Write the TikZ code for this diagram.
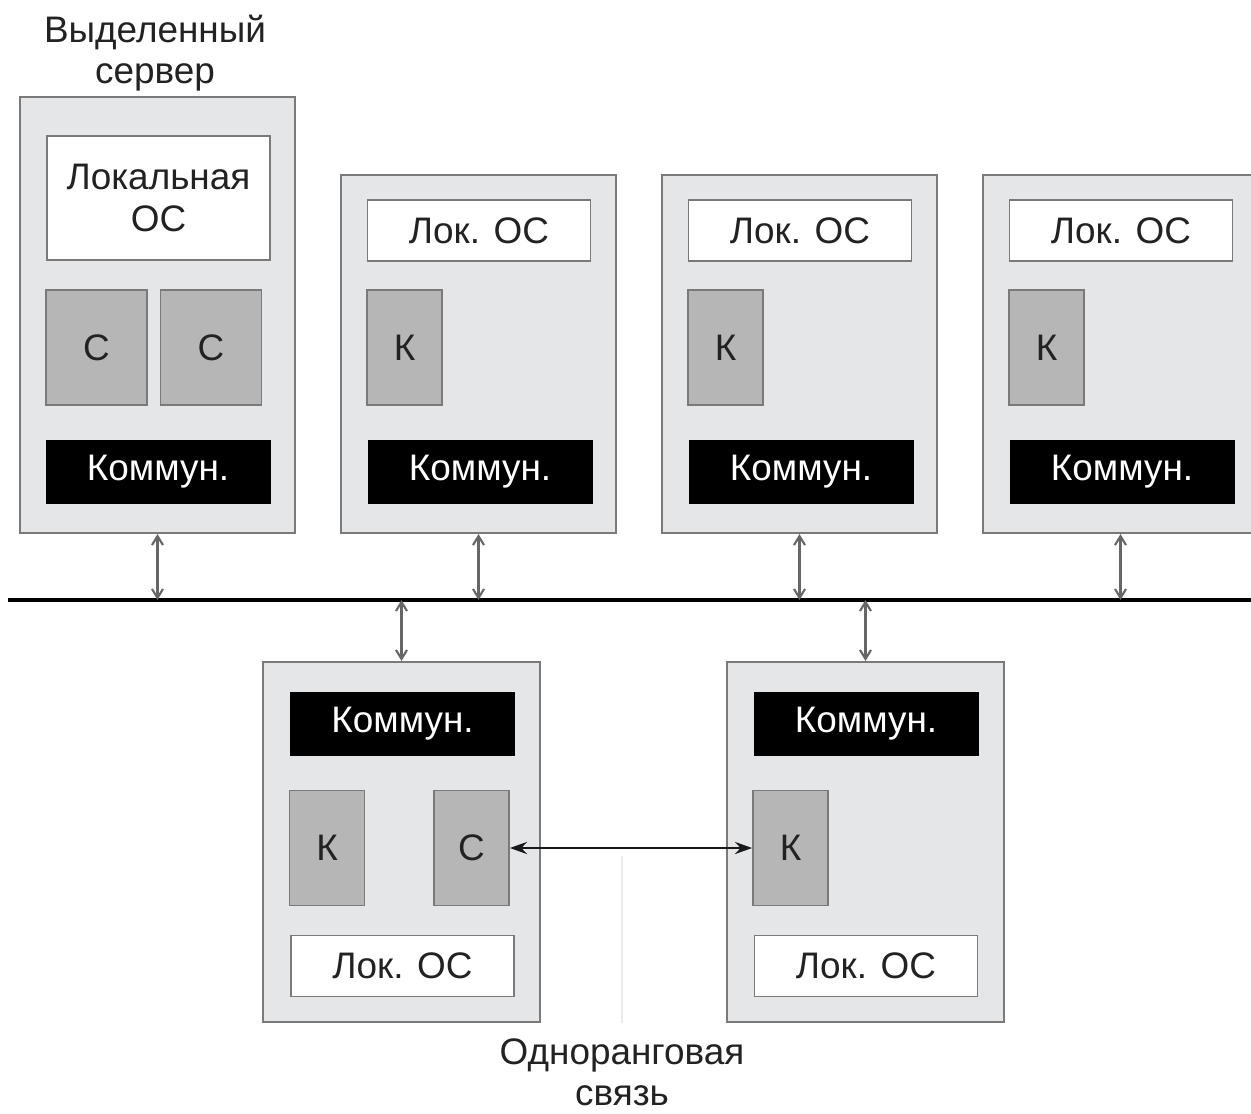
\documentclass[tikz,border=0pt]{standalone}
\usepackage{fontspec}
\setmainfont{Liberation Sans}
\usepackage{tikz}
\usetikzlibrary{positioning}
\usetikzlibrary{arrows.meta}
\usepackage{xcolor}
\definecolor{boxfill}{HTML}{E5E6E7}
\definecolor{boxline}{HTML}{7A7A7A}
\definecolor{progfill}{HTML}{B6B6B6}
\definecolor{inktext}{HTML}{222222}

\begin{document}
\begin{tikzpicture}[
		% Style definitions
		machine/.style={draw=boxline, line width=1.2pt, fill=boxfill, minimum width=5.5cm, minimum height=7.16cm},
		oslayer/.style={draw=boxline, line width=1pt, fill=white, minimum width=4.46cm, minimum height=1.22cm, align=center, text=inktext},
		netlayer/.style={draw=black, fill=black, minimum width=4.48cm, minimum height=1.26cm, text=white},
		prog/.style={draw=boxline, line width=1pt, fill=progfill, minimum width=1.5cm, minimum height=2.3cm, text=inktext},
		caption/.style={align=center, text=inktext},
		link/.style={{Straight Barb[length=1.8mm,width=2.2mm]}-{Straight Barb[length=1.8mm,width=2.2mm]}, draw=black!60, line width=1.2pt},
		peer/.style={{Stealth[length=3.4mm,width=2.4mm]}-{Stealth[length=3.4mm,width=2.4mm]}, draw=black!90, line width=1.6pt},
		font=\fontsize{21}{23.5}\selectfont,
		]
		\useasboundingbox (0,0) rectangle (25.02,-22.28);

		% Dedicated server
		\node[caption] (srvlbl) at (3.1,-1.06) {Выделенный\\сервер};
		\node[machine, minimum height=8.72cm] (srv) at (3.15,-6.3) {};
		\node[oslayer, minimum height=2.48cm] (srvos) at (3.17,-3.96) {Локальная\\ОС};
		\node[prog, minimum width=2.02cm] (srvc1) at (1.93,-6.95) {С};
		\node[prog, minimum width=2.02cm] (srvc2) at (4.22,-6.95) {С};
		\node[netlayer] (srvnet) at (3.16,-9.43) {Коммун.};

		% Clients, top row
		\node[machine] (cla) at (9.57,-7.08) {};
		\node[oslayer] (claos) at (9.58,-4.61) {Лок. ОС};
		\node[prog] (clak) at (8.09,-6.95) {К};
		\node[netlayer] (clanet) at (9.6,-9.43) {Коммун.};

		\node[machine] (clb) at (15.99,-7.08) {};
		\node[oslayer] (clbos) at (16.0,-4.61) {Лок. ОС};
		\node[prog] (clbk) at (14.51,-6.95) {К};
		\node[netlayer] (clbnet) at (16.02,-9.43) {Коммун.};

		\node[machine] (clc) at (22.41,-7.08) {};
		\node[oslayer] (clcos) at (22.42,-4.61) {Лок. ОС};
		\node[prog] (clck) at (20.93,-6.95) {К};
		\node[netlayer] (clcnet) at (22.44,-9.43) {Коммун.};

		% Network bus
		\coordinate (busw) at (0.16,-12.0);
		\coordinate (buse) at (25.02,-12.0);
		\draw[line width=2.8pt] (busw) -- (buse);

		% Peer machines, bottom row
		\node[machine, minimum width=5.54cm, minimum height=7.2cm] (pra) at (8.03,-16.84) {};
		\node[netlayer] (pranet) at (8.05,-14.48) {Коммун.};
		\node[prog] (prak) at (6.54,-16.96) {К};
		\node[prog] (prac) at (9.43,-16.96) {С};
		\node[oslayer] (praos) at (8.05,-19.32) {Лок. ОС};

		\node[machine, minimum width=5.54cm, minimum height=7.2cm] (prb) at (17.31,-16.84) {};
		\node[netlayer] (prbnet) at (17.32,-14.48) {Коммун.};
		\node[prog] (prbk) at (15.81,-16.96) {К};
		\node[oslayer] (prbos) at (17.32,-19.32) {Лок. ОС};

		% Links to the bus
		\draw[link] (srv.south) -- (srv.south |- busw);
		\draw[link] (cla.south) -- (cla.south |- busw);
		\draw[link] (clb.south) -- (clb.south |- busw);
		\draw[link] (clc.south) -- (clc.south |- busw);
		\draw[link] (pra.north |- busw) -- (pra.north);
		\draw[link] (prb.north |- busw) -- (prb.north);

		% Peer-to-peer link
		\draw[peer] (prac.east) -- (prbk.west);
		\node[caption] (peerlbl) at (12.44,-21.44) {Одноранговая\\связь};
		\draw[black!8, line width=0.6pt] (peerlbl.north |- pra.south) -- ++(0,3.34);

	\end{tikzpicture}
\end{document}
